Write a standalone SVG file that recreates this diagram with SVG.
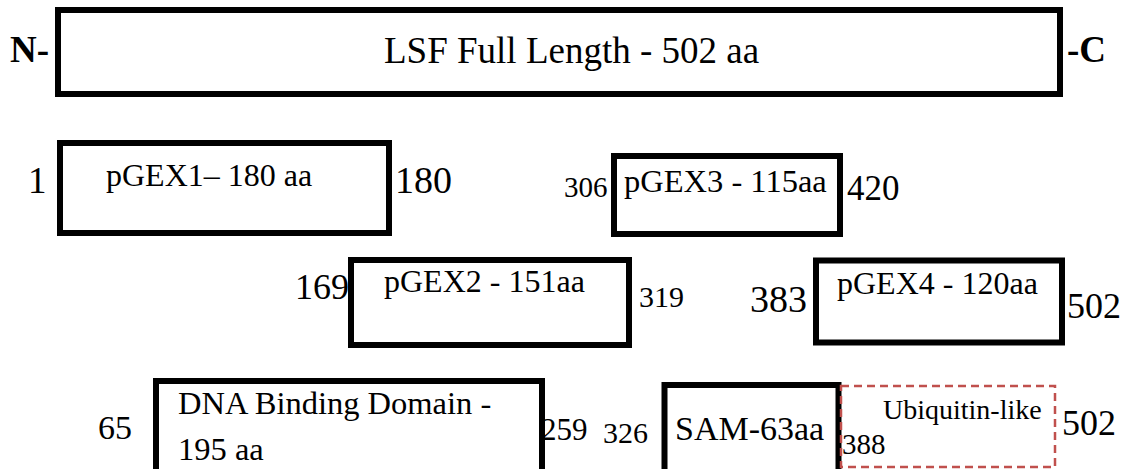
<svg xmlns="http://www.w3.org/2000/svg" width="1136" height="469" viewBox="0 0 1136 469">
<style>
.box{fill:#fff;stroke:#000;stroke-width:6}
.dash{fill:none;stroke:#c0504d;stroke-width:2.5;stroke-dasharray:8 5}
text{font-family:"Liberation Serif","Times New Roman",serif;fill:#000}
.b{font-weight:bold;font-size:37px}
</style>
<rect width="1136" height="469" fill="#fff"/>
<g id="full">
<rect class="box" x="58" y="10" width="1002" height="84"/>
<text class="b" x="10" y="62">N-</text>
<text x="384" y="63" font-size="37">LSF Full Length - 502 aa</text>
<text class="b" x="1067" y="62">-C</text>
</g>
<g id="pgex1">
<rect class="box" x="60" y="143" width="329" height="90"/>
<text x="28" y="193" font-size="37">1</text>
<text x="106" y="186" font-size="32">pGEX1– 180 aa</text>
<text x="395" y="193" font-size="38">180</text>
</g>
<g id="pgex3">
<rect class="box" x="614" y="156" width="226" height="78"/>
<text x="564" y="197" font-size="29">306</text>
<text x="624" y="192" font-size="32.5">pGEX3 - 115aa</text>
<text x="847" y="200" font-size="35">420</text>
</g>
<g id="pgex2">
<rect class="box" x="351" y="260" width="278" height="85"/>
<text x="295" y="299" font-size="36">169</text>
<text x="384" y="292" font-size="32">pGEX2 - 151aa</text>
<text x="639" y="307" font-size="30">319</text>
</g>
<g id="pgex4">
<rect class="box" x="816" y="260.5" width="246" height="82"/>
<text x="750" y="312" font-size="38">383</text>
<text x="837" y="294" font-size="32">pGEX4 - 120aa</text>
<text x="1067" y="318" font-size="36">502</text>
</g>
<g id="dna">
<rect class="box" x="156" y="381" width="386" height="100"/>
<text x="98" y="439" font-size="34">65</text>
<text x="178" y="414" font-size="32.5">DNA Binding Domain -</text>
<text x="178" y="460" font-size="32.5">195 aa</text>
<text x="541" y="440" font-size="31">259</text>
</g>
<g id="sam">
<rect class="box" x="664.5" y="385" width="174" height="100"/>
<text x="603" y="443" font-size="30">326</text>
<text x="675" y="440" font-size="34">SAM-63aa</text>
</g>
<g id="ubiquitin">
<rect class="dash" x="841" y="386" width="214" height="81"/>
<text x="883" y="419" font-size="28">Ubiquitin-like</text>
<text x="842" y="454" font-size="29">388</text>
<text x="1062" y="435" font-size="36">502</text>
</g>
<g id="connectors"></g>
</svg>
